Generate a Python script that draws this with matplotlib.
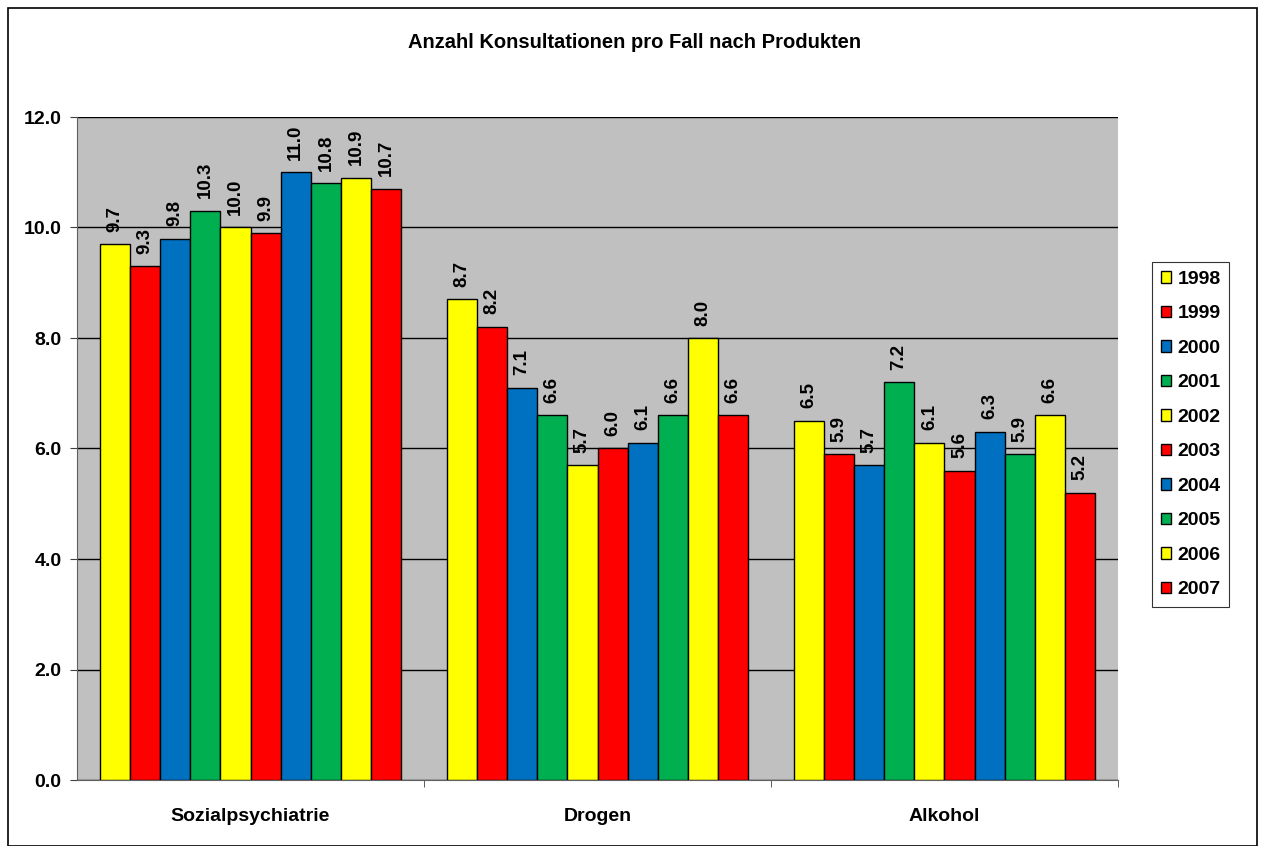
import matplotlib
matplotlib.use("Agg")
import matplotlib.pyplot as plt
from matplotlib.patches import Rectangle
import numpy as np

plt.rcParams['font.family'] = ['Liberation Sans', 'DejaVu Sans']

categories = ["Sozialpsychiatrie", "Drogen", "Alkohol"]
years = ["1998", "1999", "2000", "2001", "2002", "2003", "2004", "2005", "2006", "2007"]
values = {
    "1998": [9.7, 8.7, 6.5],
    "1999": [9.3, 8.2, 5.9],
    "2000": [9.8, 7.1, 5.7],
    "2001": [10.3, 6.6, 7.2],
    "2002": [10.0, 5.7, 6.1],
    "2003": [9.9, 6.0, 5.6],
    "2004": [11.0, 6.1, 6.3],
    "2005": [10.8, 6.6, 5.9],
    "2006": [10.9, 8.0, 6.6],
    "2007": [10.7, 6.6, 5.2],
}
colors = ["#FFFF00", "#FF0000", "#0070C0", "#00B050"] * 3
yticks = [0.0, 2.0, 4.0, 6.0, 8.0, 10.0, 12.0]
title = "Anzahl Konsultationen pro Fall nach Produkten"

fig = plt.figure(figsize=(12.65, 8.46), dpi=100)
fig.patches.append(Rectangle((8/1265, 0.0), (1257-8)/1265, 1-8/846,
                             transform=fig.transFigure, fill=False,
                             edgecolor="black", linewidth=1.2))
ax = fig.add_axes([77/1265, 1-780/846, (1118-77)/1265, (780-117)/846])
ax.set_facecolor("#C0C0C0")

n = len(years)
bw = 0.087
x = np.arange(len(categories))
for i, yr in enumerate(years):
    pos = x - bw * n / 2 + bw * (i + 0.5)
    bars = ax.bar(pos, values[yr], width=bw, color=colors[i], edgecolor="black",
                  linewidth=1.0, label=yr, zorder=3)
    for b, v in zip(bars, values[yr]):
        ax.annotate(f"{v:.1f}", (b.get_x() + b.get_width() / 2, v),
                    xytext=(0, 9), textcoords="offset points", rotation=90,
                    ha="center", va="bottom", fontsize=13.5, fontweight="bold",
                    zorder=4)

ax.set_xlim(-0.5, len(categories) - 0.5)
ax.set_ylim(0, 12)
ax.set_yticks(yticks)
ax.set_yticklabels([f"{t:.1f}" for t in yticks], fontsize=14, fontweight="bold")
ax.yaxis.grid(True, color="black", linewidth=1.0, zorder=1)
ax.set_axisbelow(True)
ax.set_xticks(x)
ax.set_xticklabels(categories, fontsize=14, fontweight="bold")
ax.tick_params(axis="x", which="major", length=0, pad=20)
ax.set_xticks([0.5, 1.5, 2.5], minor=True)
ax.tick_params(axis="x", which="minor", length=5, color="#404040")
ax.tick_params(axis="y", length=5, color="#404040", pad=6)
for s in ["top", "right"]:
    ax.spines[s].set_visible(False)
for s in ["left", "bottom"]:
    ax.spines[s].set_color("#606060")

fig.text(635/1265, 1 - 42/846, title, ha="center", va="center",
         fontsize=14.5, fontweight="bold")

leg = fig.legend(loc="upper left", bbox_to_anchor=(1152/1265, 1 - 262/846),
                 frameon=True, fancybox=False, edgecolor="black",
                 prop={"weight": "bold", "size": 14}, handlelength=0.55,
                 handleheight=0.55, handletextpad=0.3, labelspacing=0.9,
                 borderpad=0.45, borderaxespad=0)
leg.get_frame().set_linewidth(0.8)

fig.savefig("out.png", dpi=100, facecolor="white")
